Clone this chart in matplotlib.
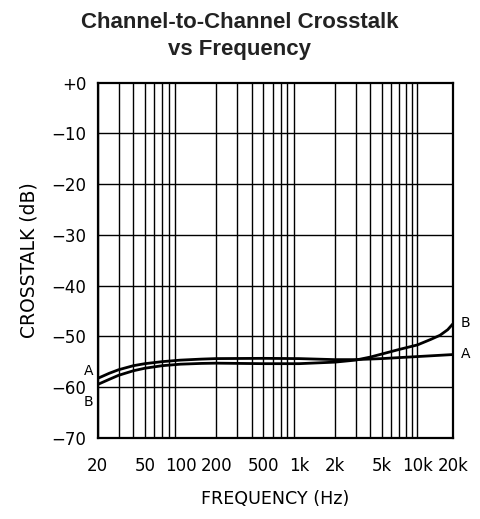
import matplotlib
matplotlib.use("Agg")
import matplotlib.pyplot as plt
import matplotlib.transforms as mtransforms
from matplotlib.ticker import FixedLocator, NullFormatter

# ---- data ----
freq_a = [20, 25, 30, 40, 50, 70, 100, 150, 200, 500, 1000, 2000, 3000, 5000, 10000, 20000]
db_a = [-58.3, -57.3, -56.6, -55.8, -55.4, -55.0, -54.7, -54.5, -54.4, -54.35, -54.4, -54.6,
        -54.6, -54.4, -54.0, -53.6]
freq_b = [20, 25, 30, 40, 50, 70, 100, 150, 200, 500, 1000, 2000, 3000, 4000, 5000, 7000,
          10000, 13000, 15500, 18000, 20000]
db_b = [-59.5, -58.5, -57.7, -56.8, -56.3, -55.8, -55.5, -55.35, -55.3, -55.4, -55.4, -55.1,
        -54.7, -54.1, -53.5, -52.6, -51.7, -50.6, -49.8, -48.7, -47.5]

x_tick_vals = [20, 50, 100, 200, 500, 1000, 2000, 5000, 10000, 20000]
x_tick_labels = ["20", "50", "100", "200", "500", "1k", "2k", "5k", "10k", "20k"]
y_tick_vals = [0, -10, -20, -30, -40, -50, -60, -70]
y_tick_labels = ["+0", "\u221210", "\u221220", "\u221230", "\u221240", "\u221250", "\u221260", "\u221270"]
x_grid_vals = [m * d for d in (10, 100, 1000) for m in range(2, 10)] + [10000]

title = "Channel-to-Channel Crosstalk\nvs Frequency"
xlabel = "FREQUENCY (Hz)"
ylabel = "CROSSTALK (dB)"

# ---- figure ----
fig = plt.figure(figsize=(4.8, 5.19), dpi=100)
ax = fig.add_axes([0.2035, 0.1566, 0.7405, 0.6841])

ax.set_xscale("log")
ax.set_xlim(20, 20000)
ax.set_ylim(-70, 0)

tick_font = dict(family="DejaVu Sans", size=12)

ax.xaxis.set_major_locator(FixedLocator(x_tick_vals))
ax.set_xticklabels(x_tick_labels, fontdict=tick_font)
ax.xaxis.set_minor_locator(FixedLocator([]))
ax.xaxis.set_minor_formatter(NullFormatter())
ax.set_yticks(y_tick_vals)
ax.set_yticklabels(y_tick_labels, fontdict=tick_font)
ax.tick_params(axis="both", which="both", length=0)
ax.tick_params(axis="x", pad=14)
ax.tick_params(axis="y", pad=8)

for xv in x_grid_vals:
    ax.axvline(xv, color="black", lw=1.0, zorder=1)
for yv in y_tick_vals[1:-1]:
    ax.axhline(yv, color="black", lw=1.0, zorder=1)

for s in ax.spines.values():
    s.set_linewidth(1.6)
    s.set_color("black")

ax.plot(freq_a, db_a, color="black", lw=2.0, zorder=3, solid_capstyle="butt")
ax.plot(freq_b, db_b, color="black", lw=2.0, zorder=3, solid_capstyle="butt")

lab_font = dict(family="DejaVu Sans", size=10)
trans = mtransforms.blended_transform_factory(ax.transAxes, ax.transData)
ax.text(-0.025, -56.9, "A", transform=trans, ha="center", va="center", **lab_font)
ax.text(-0.025, -63.0, "B", transform=trans, ha="center", va="center", **lab_font)
ax.text(1.034, -47.4, "B", transform=trans, ha="center", va="center", **lab_font)
ax.text(1.034, -53.5, "A", transform=trans, ha="center", va="center", **lab_font)

ax.set_xlabel(xlabel, labelpad=11, family="DejaVu Sans", size=12.6)
ax.set_ylabel(ylabel, labelpad=9.5, family="DejaVu Sans", size=13.5)

fig.text(0.5, 1 - 36 / 519, title, ha="center", va="center", fontsize=16,
         fontweight="bold", family="Liberation Sans", color="#222222", linespacing=1.4)

fig.savefig("out.png", dpi=100)
